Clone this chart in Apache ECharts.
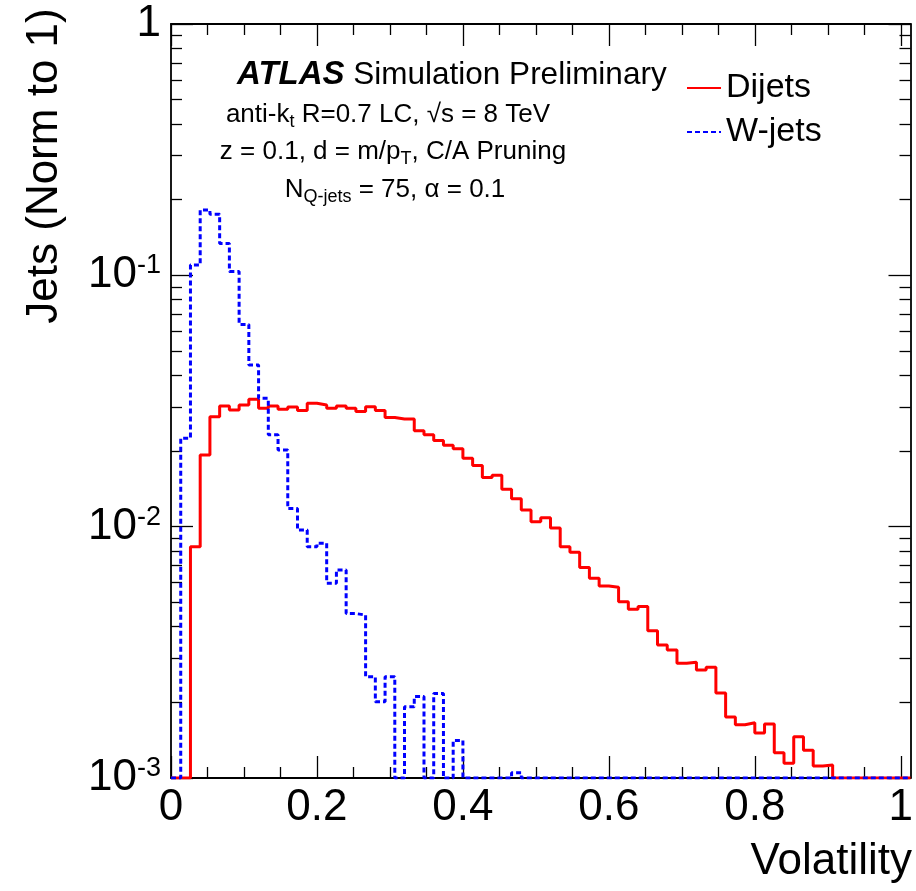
<!DOCTYPE html>
<html><head><meta charset="utf-8">
<script src="https://cdn.jsdelivr.net/npm/echarts@6/dist/echarts.min.js"></script>
<style>html,body{margin:0;padding:0;background:#fff}#c{width:916px;height:891px}</style>
</head><body><div id="c"></div>
<script>
// ---- data ----
const nBins = 76;
const binWidth = 1 / 75;
const xMax = 76 / 75;
const yMin = 0.001, yMax = 1;
const xMajorTicks = [0, 0.2, 0.4, 0.6, 0.8, 1];
const xMinorTicks = [0.05, 0.1, 0.15, 0.25, 0.3, 0.35, 0.45, 0.5, 0.55, 0.65, 0.7, 0.75, 0.85, 0.9, 0.95];
const yMajorTicks = [0.001, 0.01, 0.1, 1];
const yMinorTicks = [0.002, 0.003, 0.004, 0.005, 0.006, 0.007, 0.008, 0.009,
                     0.02, 0.03, 0.04, 0.05, 0.06, 0.07, 0.08, 0.09,
                     0.2, 0.3, 0.4, 0.5, 0.6, 0.7, 0.8, 0.9];
const dijets = [0, 0, 0.00832, 0.0193, 0.0274, 0.0302, 0.0291, 0.0305, 0.0321, 0.0296,
  0.0302, 0.0293, 0.0299, 0.0290, 0.0310, 0.0305, 0.0296, 0.0302, 0.0296, 0.0287,
  0.0300, 0.0290, 0.0272, 0.0268, 0.0268, 0.0241, 0.0232, 0.0220, 0.0211, 0.0204,
  0.0187, 0.0175, 0.0157, 0.0160, 0.0141, 0.0129, 0.01164, 0.01047, 0.01086, 0.00987,
  0.00832, 0.00791, 0.00688, 0.00623, 0.00581, 0.00574, 0.00503, 0.00469, 0.00481, 0.00385,
  0.00338, 0.00323, 0.00286, 0.00289, 0.00269, 0.00276, 0.00218, 0.00175, 0.00163, 0.00166,
  0.00151, 0.00164, 0.00126, 0.001144, 0.00146, 0.00129, 0.001116, 0.001126, 0, 0,
  0, 0, 0, 0, 0, 0];
const wjets = [0, 0.0225, 0.110, 0.182, 0.175, 0.134, 0.1035, 0.0638, 0.0440, 0.0324,
  0.0232, 0.0202, 0.0118, 0.0097, 0.00832, 0.00859, 0.00596, 0.00673, 0.00451, 0.00445,
  0.00253, 0.00201, 0.00253, 0, 0.00192, 0.00211, 0, 0.00217, 0, 0.00141,
  0, 0, 0, 0, 0, 0.00105, 0, 0, 0, 0,
  0, 0, 0, 0, 0, 0, 0, 0, 0, 0,
  0, 0, 0, 0, 0, 0, 0, 0, 0, 0,
  0, 0, 0, 0, 0, 0, 0, 0, 0, 0,
  0, 0, 0, 0, 0, 0];
const seriesNames = ['Dijets', 'W-jets'];

// ---- build ----
function histData(vals) {
  const d = [];
  for (let i = 0; i < nBins; i++) d.push([i * binWidth, Math.max(vals[i], yMin)]);
  d.push([nBins * binWidth, Math.max(vals[nBins - 1], yMin)]);
  return d;
}
const FONT = "'Liberation Sans', Arial, Helvetica, sans-serif";
const black = '#000';
function xAx(pos, ticks, len, labels) {
  return {
    type: 'value', min: 0, max: xMax, position: pos,
    axisLine: { show: len > 15, onZero: false, lineStyle: { color: black, width: 1.8 } },
    axisTick: { show: true, inside: true, length: len, customValues: ticks, lineStyle: { color: black, width: 1.3 } },
    axisLabel: labels ? {
      show: true, customValues: xMajorTicks, margin: 8, color: black, fontFamily: FONT, fontSize: 44,
      formatter: v => String(+(+v).toFixed(1))
    } : { show: false },
    splitLine: { show: false }
  };
}
function yAx(pos, ticks, len, labels) {
  return {
    type: 'log', logBase: 10, min: yMin, max: yMax, position: pos,
    axisLine: { show: len > 15, onZero: false, lineStyle: { color: black, width: 1.8 } },
    axisTick: { show: true, inside: true, length: len, customValues: ticks, lineStyle: { color: black, width: 1.3 } },
    axisLabel: labels ? {
      show: true, customValues: yMajorTicks, margin: 10, color: black, fontFamily: FONT,
      formatter: v => v >= 0.999 ? '{b|1}' : '{b|10}{s|' + Math.round(Math.log10(v)) + '}',
      rich: {
        b: { fontSize: 44, lineHeight: 46, fontFamily: FONT, color: black, verticalAlign: 'middle' },
        s: { fontSize: 27, lineHeight: 27, fontFamily: FONT, color: black, verticalAlign: 'top' }
      }
    } : { show: false },
    splitLine: { show: false }
  };
}
const txt = { fontSize: 26, lineHeight: 32, fontFamily: FONT, fill: black, verticalAlign: 'middle' };
const sub = { fontSize: 18, lineHeight: 14, fontFamily: FONT, fill: black, verticalAlign: 'bottom' };

const chart = echarts.init(document.getElementById('c'), null, { renderer: 'canvas' });
chart.setOption({
  backgroundColor: '#fff',
  animation: false,
  grid: { left: 171, top: 24, right: 1, bottom: 113, containLabel: false },
  xAxis: [
    xAx('bottom', xMajorTicks, 22, true),
    xAx('bottom', xMinorTicks, 11, false),
    xAx('top', xMajorTicks, 22, false),
    xAx('top', xMinorTicks, 11, false)
  ],
  yAxis: [
    yAx('left', yMajorTicks, 22, true),
    yAx('left', yMinorTicks, 11, false),
    yAx('right', yMajorTicks, 22, false),
    yAx('right', yMinorTicks, 11, false)
  ],
  legend: {
    orient: 'vertical', left: 681, top: 66, itemWidth: 34, itemHeight: 20, itemGap: 10,
    data: seriesNames,
    textStyle: { fontSize: 34, lineHeight: 34, fontFamily: FONT, color: black },
    itemStyle: { color: 'rgba(0,0,0,0)', borderColor: 'rgba(0,0,0,0)', borderWidth: 0, opacity: 0 }
  },
  series: [
    { name: seriesNames[0], type: 'line', step: 'end', symbol: 'none', clip: true,
      xAxisIndex: 0, yAxisIndex: 0, data: histData(dijets),
      lineStyle: { color: '#ff0000', width: 3 }, itemStyle: { color: '#ff0000' } },
    { name: seriesNames[1], type: 'line', step: 'end', symbol: 'none', clip: true,
      xAxisIndex: 0, yAxisIndex: 0, data: histData(wjets),
      lineStyle: { color: '#0000ff', width: 3, type: [5, 3] }, itemStyle: { color: '#0000ff' } }
  ],
  graphic: [
    { type: 'text', x: 45, y: 166, rotation: Math.PI / 2,
      style: { text: 'Jets (Norm to 1)', font: '44px ' + FONT, fill: black, align: 'center', verticalAlign: 'middle' } },
    { type: 'text', x: 912, y: 862,
      style: { text: 'Volatility', font: '44px ' + FONT, fill: black, align: 'right', verticalAlign: 'middle' } },
    { type: 'text', x: 237, y: 75,
      style: { text: '{a|ATLAS}{b| Simulation Preliminary}', align: 'left', verticalAlign: 'middle',
        rich: { a: { fontSize: 33, fontWeight: 'bold', fontStyle: 'italic', fontFamily: FONT, fill: black },
                b: { fontSize: 31.5, fontFamily: FONT, fill: black } } } },
    { type: 'text', x: 388, y: 115,
      style: { text: '{n|anti-k}{s|t}{n| R=0.7 LC, √s = 8 TeV}', align: 'center', verticalAlign: 'middle',
        rich: { n: txt, s: sub } } },
    { type: 'text', x: 393, y: 152,
      style: { text: '{n|z = 0.1, d = m/p}{s|T}{n|, C/A Pruning}', align: 'center', verticalAlign: 'middle',
        rich: { n: txt, s: sub } } },
    { type: 'text', x: 395, y: 190,
      style: { text: '{n|N}{s|Q-jets}{n| = 75, α = 0.1}', align: 'center', verticalAlign: 'middle',
        rich: { n: txt, s: sub } } }
  ]
});
</script></body></html>
